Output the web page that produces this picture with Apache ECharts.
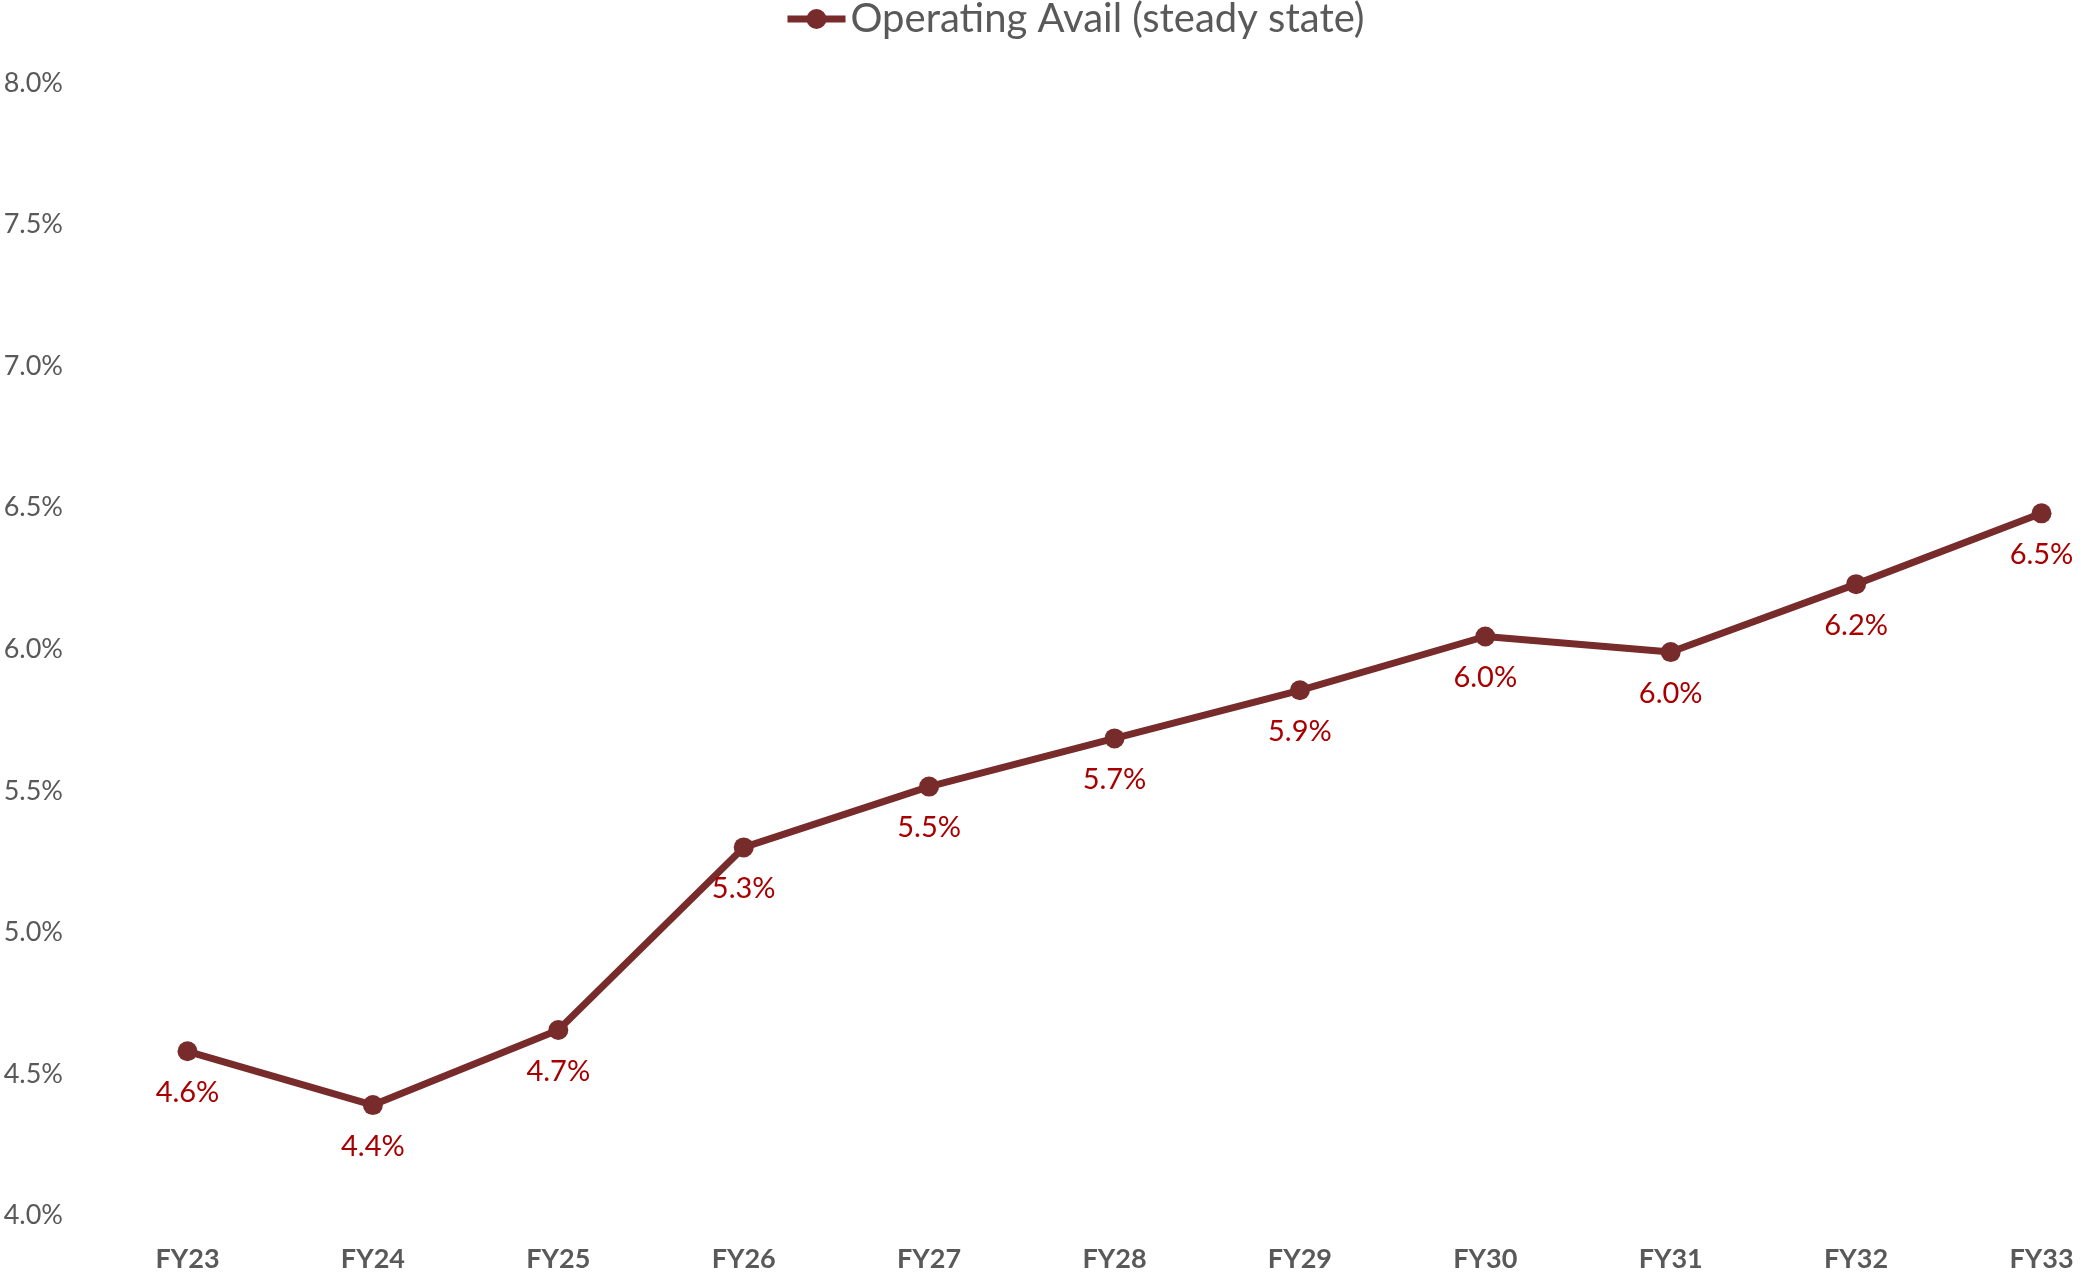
<!DOCTYPE html>
<html>
<head>
<meta charset="utf-8">
<script src="https://cdn.jsdelivr.net/npm/echarts@6/dist/echarts.min.js"></script>
<style>
html,body{margin:0;padding:0;background:#fff;}
#chart{width:2083px;height:1277px;}
</style>
</head>
<body>
<div id="chart"></div>
<script>
const categories = ['FY23','FY24','FY25','FY26','FY27','FY28','FY29','FY30','FY31','FY32','FY33'];
const seriesName = 'Operating Avail (steady state)';
const operatingAvail = [4.58, 4.39, 4.655, 5.30, 5.515, 5.685, 5.855, 6.045, 5.99, 6.23, 6.48];
const yMin = 4.0, yMax = 8.0, yStep = 0.5;

const FONT = 'Lato, "Open Sans", sans-serif';
const chart = echarts.init(document.getElementById('chart'));
chart.setOption({
  backgroundColor: '#ffffff',
  animation: false,
  legend: {
    left: 779, top: -6,
    itemWidth: 58, itemHeight: 25,
    lineStyle: { width: 7 },
    textStyle: { fontFamily: FONT, fontSize: 40, color: '#595959' },
    data: [seriesName]
  },
  grid: { left: 187.5, right: 41.5, top: 83, bottom: 61.5, containLabel: false },
  xAxis: {
    type: 'category',
    data: categories,
    boundaryGap: false,
    axisLine: { show: false },
    axisTick: { show: false },
    splitLine: { show: false },
    axisLabel: { margin: 30, fontFamily: FONT, fontSize: 27, fontWeight: 'bold', color: '#595959' }
  },
  yAxis: {
    type: 'value',
    min: yMin, max: yMax, interval: yStep,
    axisLine: { show: false },
    axisTick: { show: false },
    splitLine: { show: false },
    axisLabel: {
      margin: 124.5, fontFamily: FONT, fontSize: 27, color: '#595959',
      formatter: v => v.toFixed(1) + '%'
    }
  },
  series: [{
    name: seriesName,
    type: 'line',
    data: operatingAvail,
    symbol: 'circle',
    symbolSize: 20,
    lineStyle: { width: 7, color: '#772B2A' },
    itemStyle: { color: '#772B2A' },
    label: {
      show: true, position: 'bottom', distance: 17,
      fontFamily: FONT, fontSize: 29, color: '#A80000',
      formatter: p => p.value.toFixed(1) + '%'
    }
  }]
});
</script>
</body>
</html>
